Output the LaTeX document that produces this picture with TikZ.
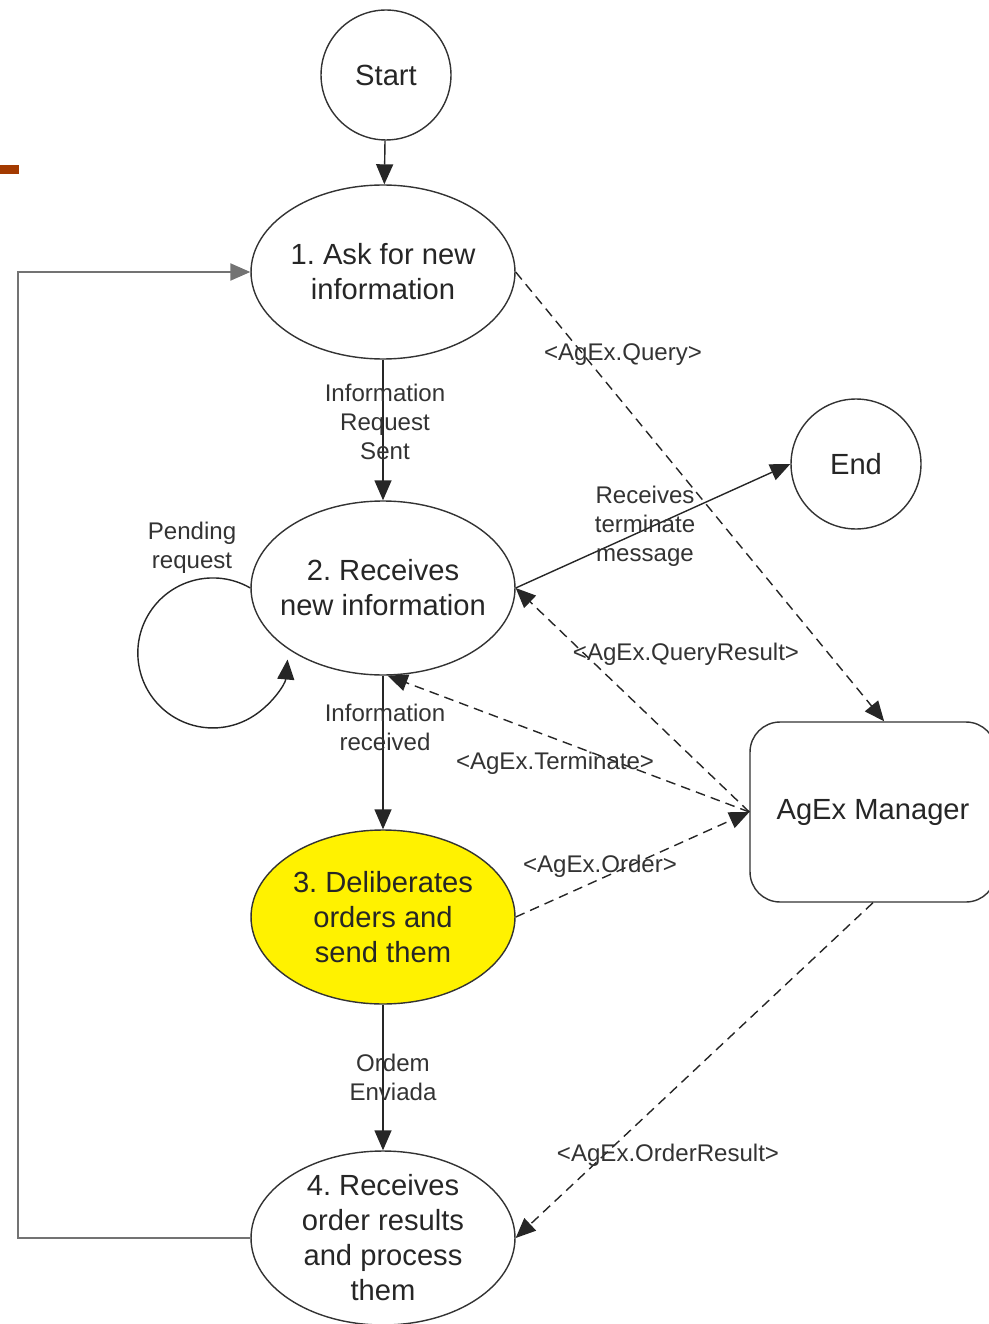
\documentclass[tikz,border=0pt]{standalone}
\usepackage{fontspec}
\setmainfont{Liberation Sans}
\frenchspacing
\usetikzlibrary{arrows.meta,shapes.geometric}

\begin{document}
\begin{tikzpicture}[x=0.02cm,y=-0.02cm,
  state/.style={ellipse,draw=black!80,line width=0.8pt,minimum width=5.28cm,minimum height=3.48cm,
    inner sep=-0.4cm,align=center,font=\fontsize{16.6}{19.9}\selectfont,text=black!85},
  term/.style={circle,draw=black!80,line width=0.8pt,minimum size=2.6cm,inner sep=0pt,
    font=\fontsize{16.6}{19.9}\selectfont,text=black!85},
  manager/.style={rectangle,rounded corners=0.6cm,draw=black!80,line width=0.8pt,
    minimum width=4.92cm,minimum height=3.6cm,inner sep=0pt,font=\fontsize{16.6}{19.9}\selectfont,text=black!85},
  lbl/.style={align=center,inner sep=0pt,font=\fontsize{13.7}{16.4}\selectfont,text=black!80},
  flow/.style={draw=black!85,line width=0.8pt,-{Triangle[length=0.4cm,width=0.34cm]}},
  msg/.style={flow,dash pattern=on 5.5pt off 3.5pt},
  back/.style={draw=black!55,line width=1.3pt}
]
\useasboundingbox (0,0) rectangle (988,1324);

% red mark at the left edge
\fill[fill={rgb,255:red,163;green,58;blue,0}] (0,165) rectangle (19,174);

% states
\node[term] (start) at (386,75) {Start};
\node[state] (ask) at (383,272) {1. Ask for new\\information};
\node[state] (recv) at (383,588) {2. Receives\\new information};
\node[state,fill=yellow] (delib) at (383,917) {3. Deliberates\\orders and\\send them};
\node[state] (result) at (383,1238) {4. Receives\\order results\\and process\\them};
\node[term] (end) at (856,464) {End};
\node[manager] (mgr) at (873,812) {AgEx Manager};

% main flow
\draw[flow] (start) -- (ask);
\draw[flow] (ask) -- (recv);
\draw[flow] (recv) -- (delib);
\draw[flow] (delib) -- (result);
\draw[flow] (recv.east) -- (end.west);
\draw[flow] (recv.west) arc[start angle=-60,end angle=-355,radius=75];
\draw[back,-{Triangle[length=0.4cm,width=0.34cm]}] (result.west) -- ++(-232,0) |- (ask.west);

% messages to and from the manager
\draw[msg] (ask.east) -- (mgr.83);
\draw[msg] (mgr.west) -- (recv.east);
\draw[msg] (mgr.west) -- (recv.-87);
\draw[msg] (delib.east) -- (mgr.west);
\draw[msg] (mgr.south) -- (result.east);

% labels
\node[lbl] (l-sent) at (385,422) {Information\\Request\\Sent};
\node[lbl] (l-pend) at (192,548) {Pending\\request};
\node[lbl] (l-term) at (645,526) {Receives\\terminate\\message};
\node[lbl] (l-query) at (623,355) {<AgEx.Query>};
\node[lbl] (l-qres) at (686,654) {<AgEx.QueryResult>};
\node[lbl] (l-recd) at (385,727) {Information\\received};
\node[lbl] (l-tmsg) at (555,763) {<AgEx.Terminate>};
\node[lbl] (l-order) at (600,866) {<AgEx.Order>};
\node[lbl] (l-sent2) at (393,1077) {Ordem\\Enviada};
\node[lbl] (l-ores) at (668,1155) {<AgEx.OrderResult>};

\end{tikzpicture}
\end{document}
